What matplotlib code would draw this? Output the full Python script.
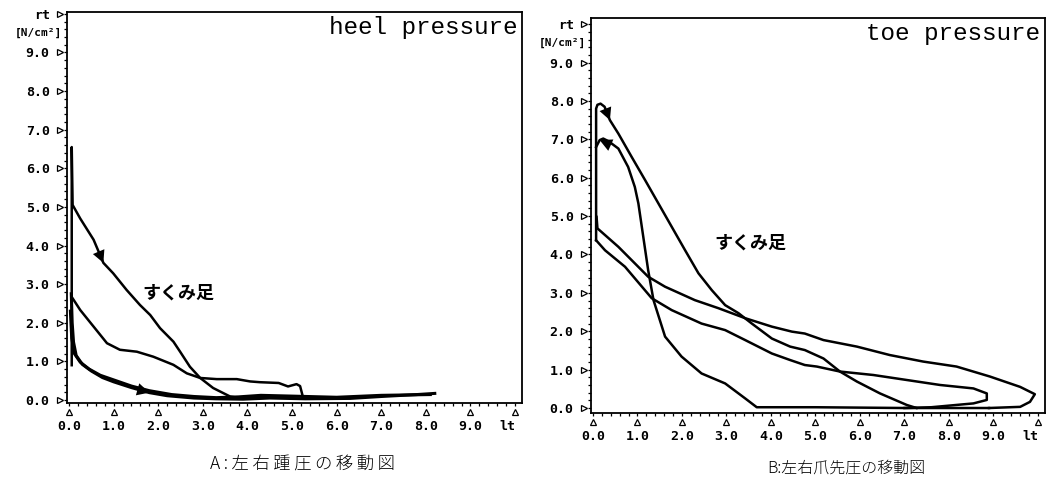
import matplotlib
matplotlib.use("Agg")
import matplotlib.pyplot as plt
from matplotlib.ticker import MultipleLocator
from matplotlib.transforms import blended_transform_factory

# --- heel pressure traces (lt on x, rt on y, N/cm^2) ---
heel_upper_x = [0.06, 0.06, 0.06, 0.08, 0.25, 0.55, 0.77, 0.99, 1.29, 1.59, 1.82, 2.04,
                2.34, 2.49, 2.71, 2.94, 3.23, 3.61, 3.83, 4.20, 4.60]
heel_upper_y = [0.90, 3.00, 6.55, 5.05, 4.70, 4.15, 3.55, 3.28, 2.85, 2.46, 2.20, 1.86,
                1.51, 1.25, 0.86, 0.57, 0.31, 0.09, 0.05, 0.08, 0.06]

heel_mid_x = [0.07, 0.25, 0.55, 0.85, 1.14, 1.52, 1.89, 2.34, 2.64, 2.94, 3.31, 3.76,
              4.06, 4.28, 4.70, 4.91, 5.10, 5.18, 5.25]
heel_mid_y = [2.65, 2.33, 1.90, 1.47, 1.30, 1.25, 1.12, 0.91, 0.69, 0.57, 0.54, 0.54,
              0.48, 0.46, 0.44, 0.35, 0.41, 0.36, 0.05]

heel_low_a_x = [0.05, 0.07, 0.10, 0.16, 0.30, 0.50, 0.75, 1.00, 1.40, 1.80, 2.20, 2.80,
                3.30, 3.90, 4.50, 5.30, 6.30, 7.00, 7.80, 8.20]
heel_low_a_y = [2.75, 2.00, 1.50, 1.15, 0.92, 0.75, 0.58, 0.47, 0.32, 0.19, 0.11, 0.05,
                0.03, 0.02, 0.05, 0.03, 0.04, 0.09, 0.14, 0.17]

heel_low_b_x = [0.03, 0.06, 0.12, 0.25, 0.45, 0.70, 1.00, 1.40, 1.80, 2.30, 2.80, 3.30,
                3.80, 4.30, 5.00, 6.00, 7.00, 8.10]
heel_low_b_y = [2.30, 1.60, 1.20, 0.98, 0.80, 0.64, 0.52, 0.36, 0.24, 0.14, 0.09, 0.06,
                0.08, 0.12, 0.10, 0.07, 0.12, 0.14]

# --- toe pressure traces ---
toe_a_x = [0.07, 0.07, 0.10, 0.17, 0.26, 0.38, 0.57, 0.87, 1.17, 1.47, 1.77, 2.07, 2.37,
           2.67, 2.97, 3.27, 3.57, 4.02, 4.43, 4.76, 5.18, 5.55, 5.93, 6.45, 7.05, 7.27]
toe_a_y = [4.37, 7.80, 7.90, 7.93, 7.85, 7.50, 7.15, 6.54, 5.94, 5.33, 4.72, 4.11, 3.51,
           3.07, 2.68, 2.47, 2.20, 1.81, 1.60, 1.51, 1.29, 0.95, 0.69, 0.38, 0.08, 0.00]

toe_b1_x = [0.08, 0.10, 0.57, 1.24, 1.62, 2.29, 2.82, 3.42, 4.02, 4.47, 4.76, 5.18, 5.93,
            6.67, 7.42, 8.17, 8.92, 9.60, 9.93, 9.82, 9.60, 8.90]
toe_b1_y = [4.98, 4.68, 4.20, 3.42, 3.16, 2.81, 2.60, 2.34, 2.12, 1.99, 1.94, 1.77, 1.60,
            1.38, 1.21, 1.08, 0.82, 0.55, 0.36, 0.16, 0.03, 0.00]

toe_b2_x = [0.07, 0.27, 0.72, 1.32, 1.77, 2.44, 2.97, 3.42, 4.02, 4.43, 4.76, 5.03, 5.55,
            6.30, 7.05, 7.80, 8.55, 8.85, 8.85, 8.55, 8.17, 7.60, 7.00]
toe_b2_y = [4.37, 4.11, 3.68, 2.86, 2.55, 2.20, 2.03, 1.77, 1.42, 1.25, 1.12, 1.08, 0.95,
            0.86, 0.73, 0.60, 0.51, 0.38, 0.21, 0.12, 0.08, 0.02, 0.00]

toe_c_x = [0.07, 0.15, 0.23, 0.35, 0.57, 0.79, 0.94, 1.02, 1.13, 1.24, 1.36, 1.62, 1.99,
           2.44, 2.97, 3.42, 3.68, 5.00, 7.00, 8.90]
toe_c_y = [6.80, 6.98, 7.02, 6.95, 6.76, 6.28, 5.76, 5.33, 4.46, 3.59, 2.81, 1.86, 1.34,
           0.90, 0.64, 0.25, 0.02, 0.02, 0.00, 0.00]

x_ticks = [0, 1, 2, 3, 4, 5, 6, 7, 8, 9, 10]
x_labels = ["0.0", "1.0", "2.0", "3.0", "4.0", "5.0", "6.0", "7.0", "8.0", "9.0", "lt"]
y_ticks = [0, 1, 2, 3, 4, 5, 6, 7, 8, 9, 10]
y_labels = ["0.0", "1.0", "2.0", "3.0", "4.0", "5.0", "6.0", "7.0", "8.0", "9.0", "rt"]

MONO = "DejaVu Sans Mono"
CJK = ["Noto Sans CJK JP", "DejaVu Sans"]
LW = 1.8


def setup_axes(ax, ylim, title):
    ax.set_xlim(-0.045, 10.157)
    ax.set_ylim(*ylim)
    for s in ax.spines.values():
        s.set_linewidth(1.3)
    ax.set_xticks(x_ticks)
    ax.set_xticklabels(x_labels)
    ax.set_yticks(y_ticks)
    ax.set_yticklabels(y_labels)
    ax.xaxis.set_minor_locator(MultipleLocator(0.2))
    ax.yaxis.set_minor_locator(MultipleLocator(0.2))
    ax.tick_params(which="both", direction="out", length=2.5, width=0.9)
    ax.tick_params(which="major", pad=10, labelsize=9.5)
    for lab in ax.get_xticklabels() + ax.get_yticklabels():
        lab.set_fontfamily(MONO)
        lab.set_fontweight("bold")
    ax.get_xticklabels()[-1].set_ha("right")

    # hollow triangle markers at each major tick
    ty = blended_transform_factory(ax.transAxes, ax.transData)
    tx = blended_transform_factory(ax.transData, ax.transAxes)
    ax.plot([-0.016] * len(y_ticks), y_ticks, ls="none", marker=">", ms=4.5,
            mfc="white", mec="black", mew=0.9, transform=ty, clip_on=False)
    ax.plot(x_ticks, [-0.022] * len(x_ticks), ls="none", marker="^", ms=4.5,
            mfc="white", mec="black", mew=0.9, transform=tx, clip_on=False)

    ax.text(-0.012, 9.5, "[N/cm²]", transform=ty, ha="right", va="center",
            fontsize=8, fontfamily=MONO, fontweight="bold")
    ax.text(0.99, 0.96, title, transform=ax.transAxes, ha="right", va="center",
            fontsize=17.5, fontfamily="Liberation Mono")


def draw_arrow(ax, xs, ys, i, j):
    # arrowhead on the trace, pointing from point i toward point j
    ax.annotate("", xy=(xs[j], ys[j]), xytext=(xs[i], ys[i]),
                arrowprops=dict(arrowstyle="-|>,head_length=0.55,head_width=0.28",
                                color="black", lw=0, mutation_scale=16,
                                shrinkA=0, shrinkB=0))


fig = plt.figure(figsize=(10.46, 4.84), dpi=100)

# heel pressure panel
ax1 = fig.add_axes([0.0641, 0.1674, 0.435, 0.808])
setup_axes(ax1, (-0.078, 10.05), "heel pressure")
ax1.plot(heel_low_a_x, heel_low_a_y, color="black", lw=2.2)
ax1.plot(heel_low_b_x, heel_low_b_y, color="black", lw=2.2)
ax1.plot(heel_mid_x, heel_mid_y, color="black", lw=LW)
ax1.plot(heel_upper_x, heel_upper_y, color="black", lw=LW)
draw_arrow(ax1, heel_upper_x, heel_upper_y, 5, 6)
draw_arrow(ax1, heel_low_a_x, heel_low_a_y, 8, 9)
ax1.text(2.45, 2.78, "すくみ足", ha="center", va="center", fontsize=13,
         fontfamily=CJK, fontweight="bold")

# toe pressure panel
ax2 = fig.add_axes([0.565, 0.1467, 0.434, 0.816])
setup_axes(ax2, (-0.13, 10.16), "toe pressure")
ax2.plot(toe_a_x, toe_a_y, color="black", lw=LW)
ax2.plot(toe_b1_x, toe_b1_y, color="black", lw=LW)
ax2.plot(toe_b2_x, toe_b2_y, color="black", lw=LW)
ax2.plot(toe_c_x, toe_c_y, color="black", lw=LW)
draw_arrow(ax2, toe_a_x, toe_a_y, 4, 5)
draw_arrow(ax2, toe_c_x, toe_c_y, 4, 1)
ax2.text(3.53, 4.3, "すくみ足", ha="center", va="center", fontsize=13,
         fontfamily=CJK, fontweight="bold")

caption_a = "A:左右踵圧の移動図"
fig.text(0.289, 0.04, "\u2009".join(caption_a), ha="center", va="center",
         fontsize=12.5, fontfamily=CJK, fontweight="light")
fig.text(0.809, 0.033, "B:左右爪先圧の移動図", ha="center", va="center",
         fontsize=11.5, fontfamily=CJK, fontweight="light")

fig.savefig("out.png", dpi=100, facecolor="white")
